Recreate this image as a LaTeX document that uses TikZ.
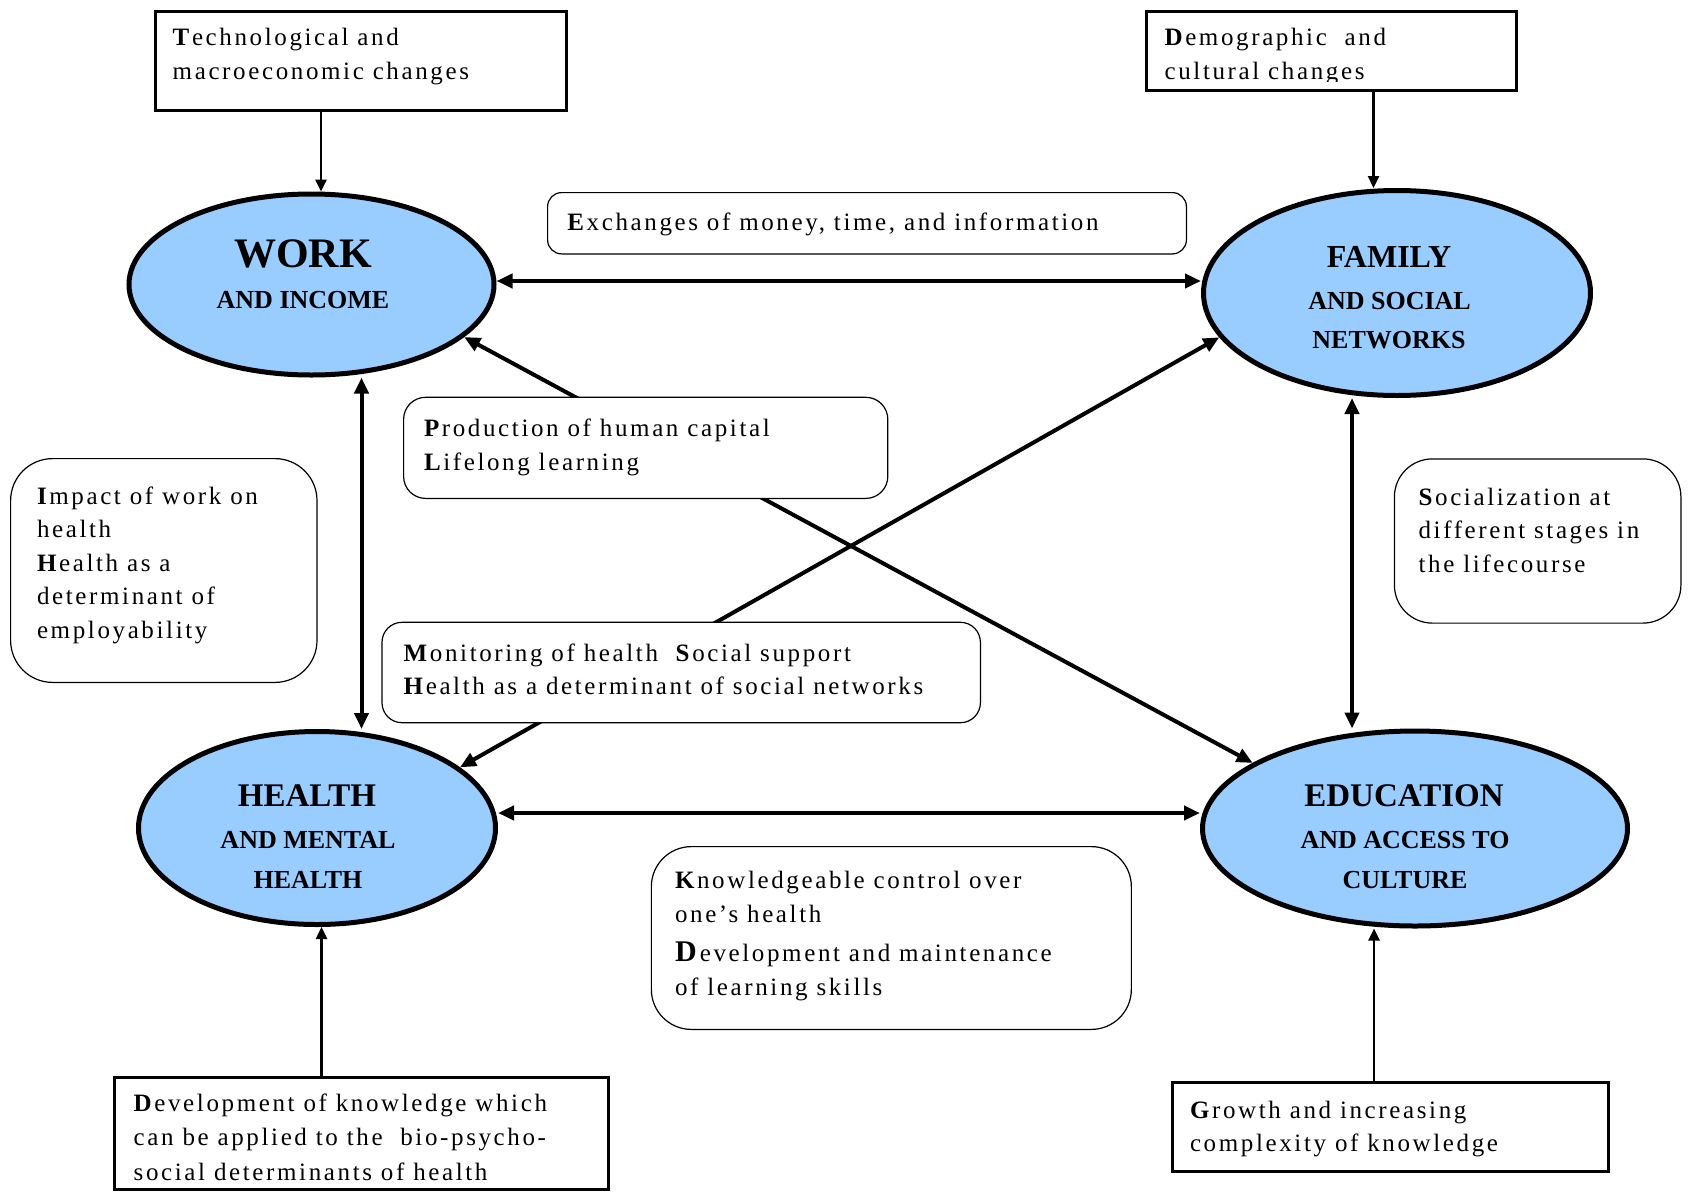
\documentclass[tikz,border=0pt]{standalone}
\usepackage{fontspec}
\setmainfont{Liberation Serif}
\newfontfamily\bodyfont[LetterSpace=10.5]{Liberation Serif}
\usetikzlibrary{shapes.geometric,arrows.meta}
\definecolor{hubblue}{RGB}{153,204,255}
\newcommand{\Lines}[2]{\vtop{\baselineskip=#1\relax #2}}
\newcommand{\rowline}[1]{\hbox{#1}}
\tikzset{
  hub/.style={ellipse, draw=black, line width=5pt, fill=hubblue, inner sep=0pt},
  sbox/.style={rectangle, draw=black, line width=3pt, fill=white, inner sep=0pt},
  rbox/.style={rectangle, rounded corners=#1, draw=black, line width=1.2pt, fill=white, inner sep=0pt},
  rbox/.default=20pt,
  txt/.style={anchor=base west, inner sep=0pt, outer sep=0pt, font=\bodyfont\fontsize{25pt}{34pt}\selectfont},
  bigt/.style={anchor=base, inner sep=0pt, font=\bfseries\fontsize{33pt}{33pt}\selectfont},
  smallt/.style={anchor=base, inner sep=0pt, font=\bfseries\fontsize{26pt}{26pt}\selectfont},
  link/.style={line width=4pt, {Triangle[length=16pt,width=14pt]}-{Triangle[length=16pt,width=14pt]}},
  feed/.style={line width=2.5pt, -{Triangle[length=12pt,width=11pt]}}
}
\begin{document}
\begin{tikzpicture}[x=1pt,y=-1pt]
\useasboundingbox (0,0) rectangle (1689,1192);

% hubs
\node[hub, minimum width=365pt, minimum height=181pt] (work) at (311.5,284.5) {};
\node[hub, minimum width=387pt, minimum height=205pt] (family) at (1397,293) {};
\node[hub, minimum width=357pt, minimum height=193pt] (health) at (317,828) {};
\node[hub, minimum width=425pt, minimum height=195pt] (edu) at (1415,828.5) {};

\node[bigt, font=\bfseries\fontsize{42pt}{42pt}\selectfont] (work-t1) at (303,267) {WORK};
\node[smallt] (work-t2) at (303,308) {AND INCOME};
\node[bigt, font=\bfseries\fontsize{32pt}{32pt}\selectfont] (family-t1) at (1389,267) {FAMILY};
\node[smallt] (family-t2) at (1389.5,309) {AND SOCIAL};
\node[smallt] (family-t3) at (1389,348) {NETWORKS};
\node[bigt] (health-t1) at (307,806) {HEALTH};
\node[smallt] (health-t2) at (308,848) {AND MENTAL};
\node[smallt] (health-t3) at (308,888) {HEALTH};
\node[bigt] (edu-t1) at (1404,806) {EDUCATION};
\node[smallt] (edu-t2) at (1405,848) {AND ACCESS TO};
\node[smallt] (edu-t3) at (1405,888) {CULTURE};

% diagonal links (behind the boxes)
\draw[link] (work.-19) -- (edu.158.6);
\draw[link] (family.194.4) -- (health.23);

% helper coordinates
\coordinate (tx) at (321,0);
\coordinate (dx) at (1373.5,0);
\coordinate (hx) at (321.5,0);
\coordinate (gx) at (1374,0);
\coordinate (vx1) at (361.5,0);
\coordinate (vx2) at (1352,0);
\coordinate (wy) at (0,281);
\coordinate (hy) at (0,813);

% straight links
\draw[link] (work.east |- wy) -- (family.west |- wy);
\draw[link] (health.east |- hy) -- (edu.west |- hy);
\draw[link] (work.south -| vx1) -- (health.north -| vx1);
\draw[link] (family.south -| vx2) -- (edu.north -| vx2);

% outer source boxes
\node[sbox, minimum width=411pt, minimum height=98.7pt] (tech) at (361,60.8) {};
\node[txt] (tech-txt) at (172.7,45) {\Lines{34.3pt}{\rowline{\textbf{T}echnological and}\rowline{macroeconomic changes}}};

\node[sbox, minimum width=370pt, minimum height=78.5pt] (demo) at (1331.5,50.75) {};
\begin{scope}
\clip (1146,11) rectangle (1517,81);
\node[txt] (demo-txt) at (1164.6,45) {\Lines{34.3pt}{\rowline{\textbf{D}emographic\ \ and}\rowline{cultural changes}}};
\end{scope}

\node[sbox, minimum width=493.6pt, minimum height=112pt] (dev) at (361.7,1133.5) {};
\node[txt] (dev-txt) at (133.7,1111.7) {\Lines{34.2pt}{\rowline{\textbf{D}evelopment of knowledge which}\rowline{can be applied to the\ \ bio-psycho-}\rowline{social determinants of health}}};

\node[sbox, minimum width=436pt, minimum height=89pt] (growth) at (1390.5,1127) {};
\node[txt] (growth-txt) at (1190,1118.3) {\Lines{33.4pt}{\rowline{\textbf{G}rowth and increasing}\rowline{complexity of knowledge}}};

\draw[feed] (tech.south -| tx) -- (work.north -| tx);
\draw[feed] (demo.south -| dx) -- (family.north -| dx);
\draw[feed] (dev.north -| hx) -- (health.south -| hx);
\draw[feed] (growth.north -| gx) -- (edu.south -| gx);

% relation boxes
\node[rbox=14pt, minimum width=638.8pt, minimum height=61.3pt] (exch) at (867,223.25) {};
\node[txt] (exch-txt) at (567.4,230.7) {\textbf{E}xchanges of money, time, and information};

\node[rbox=22pt, minimum width=484.2pt, minimum height=101.1pt] (prod) at (645.7,447.85) {};
\node[txt] (prod-txt) at (424,436) {\Lines{34pt}{\rowline{\textbf{P}roduction of human capital}\rowline{\textbf{L}ifelong learning}}};

\node[rbox=42pt, minimum width=306.4pt, minimum height=223.8pt] (impact) at (163.8,570.5) {};
\node[txt] (impact-txt) at (37,504) {\Lines{33.5pt}{\rowline{\textbf{I}mpact of work on}\rowline{health}\rowline{\textbf{H}ealth as a}\rowline{determinant of}\rowline{employability}}};

\node[rbox=20pt, minimum width=598.4pt, minimum height=100.4pt] (monitor) at (681.2,672.5) {};
\node[txt] (monitor-txt) at (403.7,661) {\Lines{33.3pt}{\rowline{\textbf{M}onitoring of health\ \ \textbf{S}ocial support}\rowline{\textbf{H}ealth as a determinant of social networks}}};

\node[rbox=38pt, minimum width=286.5pt, minimum height=164.2pt] (social) at (1537.65,541) {};
\node[txt] (social-txt) at (1418.6,505) {\Lines{33.8pt}{\rowline{\textbf{S}ocialization at}\rowline{different stages in}\rowline{the lifecourse}}};

\node[rbox=40pt, minimum width=480pt, minimum height=182.8pt] (know) at (891.35,938) {};
\node[txt] (know-txt) at (675,888.3) {\Lines{34.4pt}{\rowline{\textbf{K}nowledgeable control over}\rowline{one’s health}\vskip4pt\rowline{{\fontsize{30pt}{30pt}\selectfont\textbf{D}}evelopment and maintenance}\rowline{of learning skills}}};
\end{tikzpicture}
\end{document}
